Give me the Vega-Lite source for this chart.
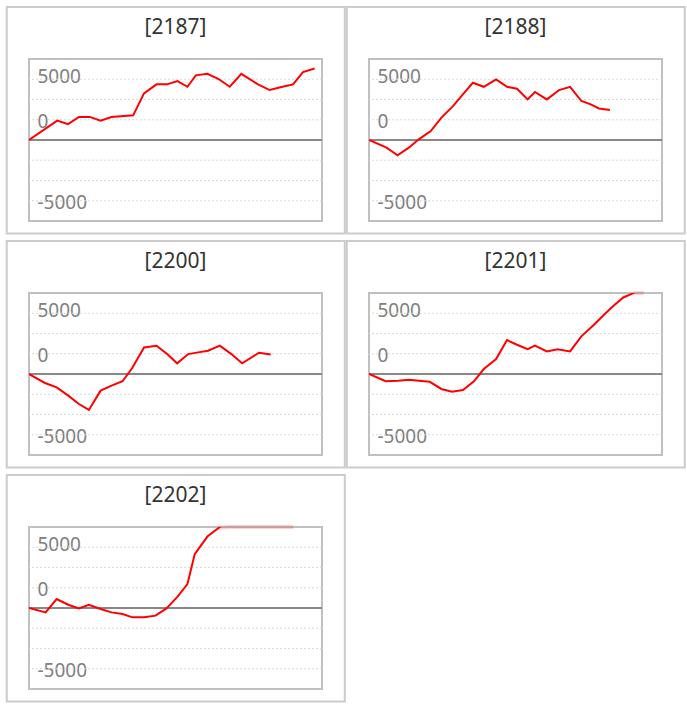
{
  "$schema": "https://vega.github.io/schema/vega-lite/v6.json",
  "padding": {"left": 4, "top": 4, "right": 0, "bottom": 0},
  "background": "white",
  "datasets": {
    "s": [
      {"code": "2187", "x": 0, "v": 0},
      {"code": "2187", "x": 2.6, "v": 1600},
      {"code": "2187", "x": 3.6, "v": 1300},
      {"code": "2187", "x": 4.6, "v": 1900},
      {"code": "2187", "x": 5.6, "v": 1900},
      {"code": "2187", "x": 6.6, "v": 1590},
      {"code": "2187", "x": 7.6, "v": 1890},
      {"code": "2187", "x": 9.6, "v": 2030},
      {"code": "2187", "x": 10.6, "v": 3840},
      {"code": "2187", "x": 11.75, "v": 4580},
      {"code": "2187", "x": 12.73, "v": 4580},
      {"code": "2187", "x": 13.68, "v": 4850},
      {"code": "2187", "x": 14.6, "v": 4380},
      {"code": "2187", "x": 15.37, "v": 5320},
      {"code": "2187", "x": 16.44, "v": 5450},
      {"code": "2187", "x": 17.43, "v": 5040},
      {"code": "2187", "x": 18.5, "v": 4380},
      {"code": "2187", "x": 19.57, "v": 5450},
      {"code": "2187", "x": 21.1, "v": 4580},
      {"code": "2187", "x": 22.18, "v": 4110},
      {"code": "2187", "x": 23.26, "v": 4360},
      {"code": "2187", "x": 24.33, "v": 4580},
      {"code": "2187", "x": 25.25, "v": 5590},
      {"code": "2187", "x": 26.32, "v": 5890},

      {"code": "2188", "x": 0, "v": 0},
      {"code": "2188", "x": 1.62, "v": -630},
      {"code": "2188", "x": 2.63, "v": -1260},
      {"code": "2188", "x": 3.67, "v": -630},
      {"code": "2188", "x": 4.59, "v": 55},
      {"code": "2188", "x": 5.69, "v": 740},
      {"code": "2188", "x": 6.67, "v": 1840},
      {"code": "2188", "x": 7.74, "v": 2790},
      {"code": "2188", "x": 8.65, "v": 3750},
      {"code": "2188", "x": 9.57, "v": 4710},
      {"code": "2188", "x": 10.58, "v": 4380},
      {"code": "2188", "x": 11.71, "v": 4990},
      {"code": "2188", "x": 12.72, "v": 4380},
      {"code": "2188", "x": 13.64, "v": 4220},
      {"code": "2188", "x": 14.62, "v": 3340},
      {"code": "2188", "x": 15.29, "v": 3950},
      {"code": "2188", "x": 16.39, "v": 3340},
      {"code": "2188", "x": 17.52, "v": 4110},
      {"code": "2188", "x": 18.53, "v": 4380},
      {"code": "2188", "x": 19.57, "v": 3210},
      {"code": "2188", "x": 20.43, "v": 2930},
      {"code": "2188", "x": 21.19, "v": 2600},
      {"code": "2188", "x": 22.2, "v": 2470},

      {"code": "2200", "x": 0, "v": 0},
      {"code": "2200", "x": 1.47, "v": -740},
      {"code": "2200", "x": 2.55, "v": -1100},
      {"code": "2200", "x": 3.62, "v": -1780},
      {"code": "2200", "x": 4.6, "v": -2470},
      {"code": "2200", "x": 5.52, "v": -2960},
      {"code": "2200", "x": 6.6, "v": -1370},
      {"code": "2200", "x": 7.61, "v": -960},
      {"code": "2200", "x": 8.62, "v": -600},
      {"code": "2200", "x": 9.51, "v": 490},
      {"code": "2200", "x": 10.6, "v": 2190},
      {"code": "2200", "x": 11.75, "v": 2330},
      {"code": "2200", "x": 12.73, "v": 1640},
      {"code": "2200", "x": 13.65, "v": 880},
      {"code": "2200", "x": 14.67, "v": 1640},
      {"code": "2200", "x": 15.58, "v": 1780},
      {"code": "2200", "x": 16.5, "v": 1920},
      {"code": "2200", "x": 17.58, "v": 2330},
      {"code": "2200", "x": 18.65, "v": 1640},
      {"code": "2200", "x": 19.64, "v": 880},
      {"code": "2200", "x": 21.2, "v": 1750},
      {"code": "2200", "x": 22.28, "v": 1610},

      {"code": "2201", "x": 0, "v": 0},
      {"code": "2201", "x": 1.53, "v": -600},
      {"code": "2201", "x": 2.69, "v": -550},
      {"code": "2201", "x": 3.67, "v": -470},
      {"code": "2201", "x": 4.59, "v": -550},
      {"code": "2201", "x": 5.6, "v": -640},
      {"code": "2201", "x": 6.67, "v": -1230},
      {"code": "2201", "x": 7.65, "v": -1450},
      {"code": "2201", "x": 8.66, "v": -1320},
      {"code": "2201", "x": 9.67, "v": -600},
      {"code": "2201", "x": 10.58, "v": 410},
      {"code": "2201", "x": 11.71, "v": 1230},
      {"code": "2201", "x": 12.72, "v": 2790},
      {"code": "2201", "x": 13.64, "v": 2410},
      {"code": "2201", "x": 14.62, "v": 2050},
      {"code": "2201", "x": 15.29, "v": 2330},
      {"code": "2201", "x": 16.39, "v": 1860},
      {"code": "2201", "x": 17.37, "v": 2030},
      {"code": "2201", "x": 18.53, "v": 1860},
      {"code": "2201", "x": 19.57, "v": 3100},
      {"code": "2201", "x": 20.73, "v": 4050},
      {"code": "2201", "x": 21.65, "v": 4880},
      {"code": "2201", "x": 22.51, "v": 5590},
      {"code": "2201", "x": 23.43, "v": 6300},
      {"code": "2201", "x": 24.35, "v": 6650},
      {"code": "2201", "x": 25.3, "v": 7400},

      {"code": "2202", "x": 0, "v": 0},
      {"code": "2202", "x": 1.53, "v": -360},
      {"code": "2202", "x": 2.55, "v": 740},
      {"code": "2202", "x": 3.62, "v": 270},
      {"code": "2202", "x": 4.6, "v": -30},
      {"code": "2202", "x": 5.52, "v": 270},
      {"code": "2202", "x": 6.6, "v": -80},
      {"code": "2202", "x": 7.61, "v": -360},
      {"code": "2202", "x": 8.62, "v": -490},
      {"code": "2202", "x": 9.54, "v": -770},
      {"code": "2202", "x": 10.6, "v": -770},
      {"code": "2202", "x": 11.66, "v": -630},
      {"code": "2202", "x": 12.67, "v": -30},
      {"code": "2202", "x": 13.69, "v": 930},
      {"code": "2202", "x": 14.6, "v": 1970},
      {"code": "2202", "x": 15.27, "v": 4440},
      {"code": "2202", "x": 16.44, "v": 5880},
      {"code": "2202", "x": 17.49, "v": 6600},
      {"code": "2202", "x": 18.5, "v": 7300},
      {"code": "2202", "x": 19.5, "v": 7900},
      {"code": "2202", "x": 20.5, "v": 8200},
      {"code": "2202", "x": 21.5, "v": 8800},
      {"code": "2202", "x": 22.5, "v": 9100},
      {"code": "2202", "x": 23.5, "v": 9500},
      {"code": "2202", "x": 24.35, "v": 9800}
    ],
    "frame": [{"x1": -2.05, "x2": 29.1, "y1": 10947, "y2": -7696}],
    "grid": [{"g": -5000}, {"g": -3333.333}, {"g": -1666.667}, {"g": 1666.667}, {"g": 3333.333}, {"g": 5000}],
    "zero": [{"z": 0}]
  },
  "columns": 2,
  "spacing": {"row": 72, "column": 47},
  "bounds": "flush",
  "concat": [
    {
      "title": "[2187]",
      "width": 293, "height": 162,
      "layer": [
        {"data": {"name": "frame"}, "mark": {"type": "rect", "filled": false, "stroke": "#cccccc", "strokeWidth": 2, "clip": false},
         "encoding": {"x": {"field": "x1", "type": "quantitative", "scale": {"domain": [0, 27], "nice": false, "zero": false}, "axis": null}, "x2": {"field": "x2"},
                      "y": {"field": "y1", "type": "quantitative", "scale": {"domain": [-6666.67, 6666.67], "nice": false, "zero": false}, "axis": null}, "y2": {"field": "y2"}}},
        {"data": {"name": "grid"}, "mark": {"type": "rule", "color": "#d9d9d9", "strokeWidth": 1, "strokeDash": [2, 2]},
         "encoding": {"y": {"field": "g", "type": "quantitative", "scale": {"domain": [-6666.67, 6666.67], "nice": false, "zero": false}, "axis": null}}},
        {"data": {"name": "zero"}, "mark": {"type": "rule", "color": "#888888", "strokeWidth": 2},
         "encoding": {"y": {"field": "z", "type": "quantitative", "scale": {"domain": [-6666.67, 6666.67], "nice": false, "zero": false}, "axis": null}}},
        {"data": {"name": "s"}, "transform": [{"filter": "datum.code == '2187'"}],
         "mark": {"type": "line", "color": "#ff0000", "strokeWidth": 2, "clip": true},
         "encoding": {"x": {"field": "x", "type": "quantitative"},
                      "y": {"field": "v", "type": "quantitative", "scale": {"domain": [-6666.67, 6666.67], "nice": false, "zero": false}, "axis": {"values": [-5000, 0, 5000]}}}}
      ],
      "resolve": {"scale": {"y": "independent"}}
    },
    {
      "title": "[2188]",
      "width": 293, "height": 162,
      "layer": [
        {"data": {"name": "frame"}, "mark": {"type": "rect", "filled": false, "stroke": "#cccccc", "strokeWidth": 2, "clip": false},
         "encoding": {"x": {"field": "x1", "type": "quantitative", "scale": {"domain": [0, 27], "nice": false, "zero": false}, "axis": null}, "x2": {"field": "x2"},
                      "y": {"field": "y1", "type": "quantitative", "scale": {"domain": [-6666.67, 6666.67], "nice": false, "zero": false}, "axis": null}, "y2": {"field": "y2"}}},
        {"data": {"name": "grid"}, "mark": {"type": "rule", "color": "#d9d9d9", "strokeWidth": 1, "strokeDash": [2, 2]},
         "encoding": {"y": {"field": "g", "type": "quantitative", "scale": {"domain": [-6666.67, 6666.67], "nice": false, "zero": false}, "axis": null}}},
        {"data": {"name": "zero"}, "mark": {"type": "rule", "color": "#888888", "strokeWidth": 2},
         "encoding": {"y": {"field": "z", "type": "quantitative", "scale": {"domain": [-6666.67, 6666.67], "nice": false, "zero": false}, "axis": null}}},
        {"data": {"name": "s"}, "transform": [{"filter": "datum.code == '2188'"}],
         "mark": {"type": "line", "color": "#ff0000", "strokeWidth": 2, "clip": true},
         "encoding": {"x": {"field": "x", "type": "quantitative"},
                      "y": {"field": "v", "type": "quantitative", "scale": {"domain": [-6666.67, 6666.67], "nice": false, "zero": false}, "axis": {"values": [-5000, 0, 5000]}}}}
      ],
      "resolve": {"scale": {"y": "independent"}}
    },
    {
      "title": "[2200]",
      "width": 293, "height": 162,
      "layer": [
        {"data": {"name": "frame"}, "mark": {"type": "rect", "filled": false, "stroke": "#cccccc", "strokeWidth": 2, "clip": false},
         "encoding": {"x": {"field": "x1", "type": "quantitative", "scale": {"domain": [0, 27], "nice": false, "zero": false}, "axis": null}, "x2": {"field": "x2"},
                      "y": {"field": "y1", "type": "quantitative", "scale": {"domain": [-6666.67, 6666.67], "nice": false, "zero": false}, "axis": null}, "y2": {"field": "y2"}}},
        {"data": {"name": "grid"}, "mark": {"type": "rule", "color": "#d9d9d9", "strokeWidth": 1, "strokeDash": [2, 2]},
         "encoding": {"y": {"field": "g", "type": "quantitative", "scale": {"domain": [-6666.67, 6666.67], "nice": false, "zero": false}, "axis": null}}},
        {"data": {"name": "zero"}, "mark": {"type": "rule", "color": "#888888", "strokeWidth": 2},
         "encoding": {"y": {"field": "z", "type": "quantitative", "scale": {"domain": [-6666.67, 6666.67], "nice": false, "zero": false}, "axis": null}}},
        {"data": {"name": "s"}, "transform": [{"filter": "datum.code == '2200'"}],
         "mark": {"type": "line", "color": "#ff0000", "strokeWidth": 2, "clip": true},
         "encoding": {"x": {"field": "x", "type": "quantitative"},
                      "y": {"field": "v", "type": "quantitative", "scale": {"domain": [-6666.67, 6666.67], "nice": false, "zero": false}, "axis": {"values": [-5000, 0, 5000]}}}}
      ],
      "resolve": {"scale": {"y": "independent"}}
    },
    {
      "title": "[2201]",
      "width": 293, "height": 162,
      "layer": [
        {"data": {"name": "frame"}, "mark": {"type": "rect", "filled": false, "stroke": "#cccccc", "strokeWidth": 2, "clip": false},
         "encoding": {"x": {"field": "x1", "type": "quantitative", "scale": {"domain": [0, 27], "nice": false, "zero": false}, "axis": null}, "x2": {"field": "x2"},
                      "y": {"field": "y1", "type": "quantitative", "scale": {"domain": [-6666.67, 6666.67], "nice": false, "zero": false}, "axis": null}, "y2": {"field": "y2"}}},
        {"data": {"name": "grid"}, "mark": {"type": "rule", "color": "#d9d9d9", "strokeWidth": 1, "strokeDash": [2, 2]},
         "encoding": {"y": {"field": "g", "type": "quantitative", "scale": {"domain": [-6666.67, 6666.67], "nice": false, "zero": false}, "axis": null}}},
        {"data": {"name": "zero"}, "mark": {"type": "rule", "color": "#888888", "strokeWidth": 2},
         "encoding": {"y": {"field": "z", "type": "quantitative", "scale": {"domain": [-6666.67, 6666.67], "nice": false, "zero": false}, "axis": null}}},
        {"data": {"name": "s"}, "transform": [{"filter": "datum.code == '2201' && datum.v > 6500"}],
         "mark": {"type": "line", "color": "#ff0000", "opacity": 0.18, "strokeWidth": 4, "clip": false},
         "encoding": {"x": {"field": "x", "type": "quantitative"},
                      "y": {"field": "v", "type": "quantitative", "scale": {"domain": [-6666.67, 6666.67], "nice": false, "zero": false, "clamp": true}, "axis": null}}},
        {"data": {"name": "s"}, "transform": [{"filter": "datum.code == '2201'"}],
         "mark": {"type": "line", "color": "#ff0000", "strokeWidth": 2, "clip": true},
         "encoding": {"x": {"field": "x", "type": "quantitative"},
                      "y": {"field": "v", "type": "quantitative", "scale": {"domain": [-6666.67, 6666.67], "nice": false, "zero": false}, "axis": {"values": [-5000, 0, 5000]}}}}
      ],
      "resolve": {"scale": {"y": "independent"}}
    },
    {
      "title": "[2202]",
      "width": 293, "height": 162,
      "layer": [
        {"data": {"name": "frame"}, "mark": {"type": "rect", "filled": false, "stroke": "#cccccc", "strokeWidth": 2, "clip": false},
         "encoding": {"x": {"field": "x1", "type": "quantitative", "scale": {"domain": [0, 27], "nice": false, "zero": false}, "axis": null}, "x2": {"field": "x2"},
                      "y": {"field": "y1", "type": "quantitative", "scale": {"domain": [-6666.67, 6666.67], "nice": false, "zero": false}, "axis": null}, "y2": {"field": "y2"}}},
        {"data": {"name": "grid"}, "mark": {"type": "rule", "color": "#d9d9d9", "strokeWidth": 1, "strokeDash": [2, 2]},
         "encoding": {"y": {"field": "g", "type": "quantitative", "scale": {"domain": [-6666.67, 6666.67], "nice": false, "zero": false}, "axis": null}}},
        {"data": {"name": "zero"}, "mark": {"type": "rule", "color": "#888888", "strokeWidth": 2},
         "encoding": {"y": {"field": "z", "type": "quantitative", "scale": {"domain": [-6666.67, 6666.67], "nice": false, "zero": false}, "axis": null}}},
        {"data": {"name": "s"}, "transform": [{"filter": "datum.code == '2202' && datum.v > 6500"}],
         "mark": {"type": "line", "color": "#ff0000", "opacity": 0.18, "strokeWidth": 4, "clip": false},
         "encoding": {"x": {"field": "x", "type": "quantitative"},
                      "y": {"field": "v", "type": "quantitative", "scale": {"domain": [-6666.67, 6666.67], "nice": false, "zero": false, "clamp": true}, "axis": null}}},
        {"data": {"name": "s"}, "transform": [{"filter": "datum.code == '2202'"}],
         "mark": {"type": "line", "color": "#ff0000", "strokeWidth": 2, "clip": true},
         "encoding": {"x": {"field": "x", "type": "quantitative"},
                      "y": {"field": "v", "type": "quantitative", "scale": {"domain": [-6666.67, 6666.67], "nice": false, "zero": false}, "axis": {"values": [-5000, 0, 5000]}}}}
      ],
      "resolve": {"scale": {"y": "independent"}}
    }
  ],
  "config": {
    "view": {"stroke": "#c0c0c0", "strokeWidth": 2},
    "title": {"font": "Noto Sans", "fontSize": 21, "fontWeight": "normal", "color": "#333333", "anchor": "middle", "frame": "group", "baseline": "middle", "offset": -32},
    "axisY": {"grid": false, "domain": false, "ticks": false, "tickSize": 0, "labelAlign": "left", "labelPadding": -8, "labelBaseline": "middle",
              "labelFont": "Noto Sans", "labelFontSize": 19, "labelColor": "#808080", "labelFlush": false, "labelOverlap": false, "title": null,
              "labelExpr": "'' + datum.value",
              "labelOffset": {"condition": [{"test": "datum.value == 0", "value": -19}, {"test": "datum.value > 0", "value": -3}], "value": 2}}
  }
}
